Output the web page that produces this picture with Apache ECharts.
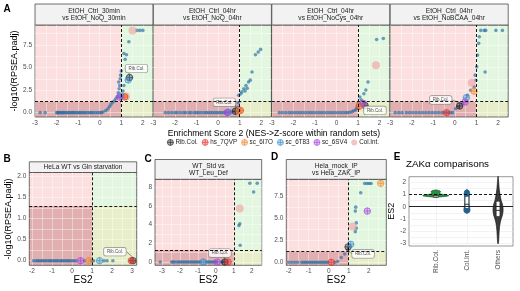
<!DOCTYPE html>
<html lang="en">
<head>
<meta charset="UTF-8">
<title>RPSEA panels</title>
<script src="https://cdn.jsdelivr.net/npm/echarts@6/dist/echarts.min.js"></script>
<style>
  html, body { margin: 0; padding: 0; background: #fff; }
  #chart { width: 520px; height: 291px; }
</style>
</head>
<body>
<div id="chart"></div>
<script>
// ---- data ----
const groups = ['Rib.Col.', 'hs_7QVP', 'sc_6I7O', 'sc_6T83', 'sc_6SV4', 'Col.Int.'];
const groupColors = ['#1a1a1a', '#e8312f', '#f08a2c', '#3c8fcf', '#a844e0', '#f3a3a3'];

const stripTexts = [
  'EtOH_Ctrl_30min\nvs EtOH_NoQ_30min',
  'EtOH_Ctrl_04hr\nvs EtOH_NoQ_04hr',
  'EtOH_Ctrl_04hr\nvs EtOH_NoCys_04hr',
  'EtOH_Ctrl_04hr\nvs EtOH_NoBCAA_04hr',
  'HeLa WT vs Gln starvation',
  'WT_Std vs\nWT_Leu_Def',
  'Hela_mock_IP\nvs Hela_ZAK_IP'
];

// points sitting on -log10(padj) = 0 (x values only)
const a1Zero = [-2.76,-2.53,-2.0,-1.95,-1.9,-1.84,-1.78,-1.72,-1.66,-1.6,-1.52,-1.45,-1.38,-1.3,-1.24,-1.18,-1.1,-1.02,-0.95,-0.88,-0.8,-0.72,-0.65,-0.55,-0.45,-0.38,-0.3,-0.2,-0.1,0.0,0.08];
const a2Zero = [-2.45,-2.3,-2.15,-2.0,-1.9,-1.75,-1.6,-1.5,-1.35,-1.25,-1.1,-1.0,-0.9,-0.78,-0.65,-0.55,-0.45,-0.35,-0.25,-0.15,-0.05,0.05,0.15,0.25,0.35];
const a3Zero = [-2.65,-2.5,-2.35,-2.2,-2.08,-1.95,-1.82,-1.7,-1.58,-1.45,-1.32,-1.2,-1.08,-0.95,-0.82,-0.7,-0.58,-0.45,-0.32,-0.2,-0.08,0.05,0.18,0.3,0.42,0.52];
const a4Zero = [-2.77,-2.6,-2.45,-2.25,-2.1,-1.95,-1.8,-1.65,-1.5,-1.35,-1.2,-1.05,-0.9,-0.75,-0.6,-0.48,-0.3,-0.2,-0.1];
const bZero = [-1.92,-1.8,-1.72,-1.64,-1.55,-1.47,-1.38,-1.3,-1.2,-1.12,-1.04,-0.95,-0.86,-0.78,-0.7,-0.6,-0.52,-0.44,-0.35,-0.26,-0.18,-0.1,0.0,0.1,0.2,0.62,0.98,1.08,1.6,1.75,2.04];
const cZero = [-3.1,-2.46,-2.38,-2.28,-2.15,-2.05,-1.95,-1.85,-1.75,-1.65,-1.55,-1.45,-1.35,-1.25,-1.15,-1.05,-0.95,-0.85,-0.55,-0.45,-0.35,-0.25,-0.15,-0.05,0.04,0.3,0.38];
const dZero = [-2.0,-1.85,-1.7,-1.55,-1.35,-1.25,-1.15,-1.05,-0.95,-0.85,-0.75,-0.65,-0.55,-0.45,-0.35,-0.25,-0.15,-0.05,0.3];

// other background points [ES2, -log10(padj)]
const a1Pts = [[0.15,0.08],[0.28,0.22],[0.38,0.42],[0.46,0.68],[0.52,0.92],[0.6,1.15],[0.68,1.32],[0.75,1.55],[0.82,1.8],[0.86,2.2],[0.9,2.65],[0.93,3.0],[0.88,3.4],[0.95,3.75],[0.97,4.15],[1.0,4.6],[1.08,2.4],[1.12,3.0],[1.12,6.55],[1.24,6.4],[1.18,5.9],[1.35,7.85],[1.72,9.1],[1.86,9.1],[2.0,9.1]];
const a2Pts = [[0.55,0.05],[0.65,0.1],[0.78,0.15],[0.9,0.6],[0.95,1.1],[0.95,1.92],[1.05,2.1],[1.1,2.3],[1.19,2.65],[1.25,2.4],[1.29,3.0],[1.35,2.7],[1.41,3.4],[1.49,3.6],[1.57,4.5],[1.73,6.4],[1.86,6.7],[1.97,7.0]];
const a3Pts = [[0.62,0.05],[0.72,0.1],[0.8,0.2],[0.88,0.3],[0.95,0.5],[1.02,1.05],[1.08,1.73],[1.15,1.4],[1.27,2.1],[1.36,2.5],[1.46,3.4],[1.86,8.1],[2.17,8.2]];
const a4Pts = [[0.03,0.44],[0.15,0.62],[0.35,1.0],[0.58,1.92],[0.73,2.48],[0.89,2.85],[0.97,3.59],[0.94,4.15],[1.01,5.07],[1.05,6.37],[1.1,7.67],[1.13,8.4],[1.2,9.1],[1.36,9.1],[1.43,9.1],[1.9,9.1],[2.2,9.1],[1.4,4.5]];
const bPts = [];
const cPts = [[1.28,3.9],[1.33,4.1],[1.35,1.8],[1.89,8.43],[2.3,8.43],[2.1,7.5]];
const dPts = [[0.45,0.1],[0.63,0.55],[0.8,0.95],[0.95,1.4],[1.33,3.5],[1.38,3.9],[1.38,4.5],[1.33,5.85],[1.35,6.3],[1.6,7.95],[1.8,9.0],[1.92,9.0],[2.02,9.0],[2.12,9.0]];

// highlighted complexes [group index, ES2, -log10(padj)]
const a1Marks = [[0,1.38,3.89],[1,1.16,1.75],[2,1.1,1.78],[3,1.32,3.62],[3,0.97,1.85],[4,0.93,1.7],[5,1.52,9.1],[5,1.22,1.8]];
const a2Marks = [[0,0.8,0.15],[1,1.03,0.25],[2,0.97,0.2],[3,0.48,0.05],[4,0.42,0.02]];
const a3Marks = [[0,1.32,0.8],[1,1.05,0.7],[2,1.1,0.82],[4,1.24,1.03],[5,1.83,5.26]];
const a4Marks = [[0,0.22,0.74],[1,-0.39,0],[2,0.89,2.37],[3,0.53,1.66],[4,0.47,1.18],[5,0.78,3.3]];
const bMarks = [[0,3.04,0],[1,2.96,0],[2,0.85,0],[3,1.38,0],[4,0.43,0]];
const cMarks = [[0,0.5,0],[1,0.68,0],[3,-0.7,0],[4,0.07,0],[5,1.33,5.74]];
const dMarks = [[0,0.97,1.76],[1,0.13,0],[2,2.6,9.02],[3,1.1,2.06],[4,1.93,5.85],[5,1.2,4.1]];

// tick labels
const xTicksA = [-3,-2,-1,0,1,2];
const yTicksA = [0,2.5,5,7.5];
const xTicksB = [-2,-1,0,1,2,3];
const yTicksB = [0,0.5,1,1.5,2];
const yTicksC = [0,2,4,6,8];
const xTicksD = [-2,-1,0,1,2];

// panel E: violins (ES2 value, half width in category units) and boxes [cat, q1, median, q3]
const eCats = ['Rib.Col.', 'Col.Int.', 'Others'];
const ribViolinY = [0.76,0.8,0.84,0.88,0.92,0.96,1.0,1.05,1.1,1.15,1.2,1.25,1.3,1.35,1.38];
const ribViolinW = [0.0,0.12,0.28,0.4,0.42,0.35,0.24,0.15,0.13,0.13,0.15,0.15,0.12,0.06,0.0];
const colViolinY = [-0.55,-0.45,-0.3,-0.1,0.1,0.3,0.5,0.7,0.9,1.1,1.3,1.42];
const colViolinW = [0.0,0.08,0.1,0.09,0.08,0.07,0.07,0.07,0.08,0.09,0.07,0.0];
const othViolinY = [-3.05,-2.9,-2.5,-2.0,-1.6,-1.3,-1.0,-0.7,-0.4,-0.1,0.2,0.5,1.0,1.5,2.0,2.5];
const othViolinW = [0.0,0.015,0.025,0.035,0.05,0.07,0.1,0.14,0.16,0.16,0.14,0.1,0.06,0.035,0.02,0.0];
const eBoxes = [[1,0.86,0.9,0.95],[2,-0.15,0.2,0.85],[3,-0.8,-0.3,0.45]];

// ---- drawing ----
const FONT = '"Liberation Sans", Arial, sans-serif';
const SIG = 1.301; // -log10(0.05)
const CROSS = 'path://M10,0A10,10,0,1,1,10,20A10,10,0,1,1,10,0ZM0,10L20,10M10,0L10,20';
const quadColors = ['#fce0e0', '#e3f7e0', '#e2afb1', '#e8eec9'];

const violins = [
  { y: ribViolinY, w: ribViolinW, fill: '#23913f', stroke: '#0f5a25' },
  { y: colViolinY, w: colViolinW, fill: '#1f6594', stroke: '#124a70' },
  { y: othViolinY, w: othViolinW, fill: '#3b3b3b', stroke: '#1a1a1a' }
];

function halves(lo, hi, step) {
  const out = [];
  for (let v = lo; v <= hi + 1e-9; v += step) out.push(Math.round(v * 100) / 100);
  return out;
}

const A_X = [-3.0, 2.47];
const A_Y = [-0.48, 9.7];
const panels = [
  { box: [35, 25, 118, 92], strip: [4, 21], xr: A_X, yr: A_Y, xt: xTicksA, yt: yTicksA, yg: halves(0, 8.75, 1.25), dec: 1, showY: true, yName: '-log10(RPSEA.padj)', yGap: 16, zero: a1Zero, pts: a1Pts, marks: a1Marks, lab: [7, -9] },
  { box: [153.4, 25, 118, 92], strip: [4, 21], xr: A_X, yr: A_Y, xt: xTicksA, yt: yTicksA, yg: halves(0, 8.75, 1.25), dec: 1, showY: false, zero: a2Zero, pts: a2Pts, marks: a2Marks, lab: [-11, -9] },
  { box: [271.8, 25, 118, 92], strip: [4, 21], xr: A_X, yr: A_Y, xt: xTicksA, yt: yTicksA, yg: halves(0, 8.75, 1.25), dec: 1, showY: false, zero: a3Zero, pts: a3Pts, marks: a3Marks, lab: [10, 5] },
  { box: [390.2, 25, 118, 92], strip: [4, 21], xr: A_X, yr: A_Y, xt: xTicksA, yt: yTicksA, yg: halves(0, 8.75, 1.25), dec: 1, showY: false, zero: a4Zero, pts: a4Pts, marks: a4Marks, lab: [-19, -6] },
  { box: [29.3, 172.5, 107.4, 92.8], strip: [161.8, 10.7], xr: [-2.13, 3.23], yr: [-0.11, 2.1], xt: xTicksB, yt: yTicksB, yg: halves(0, 2, 0.25), dec: 1, showY: true, yName: '-log10(RPSEA.padj)', yGap: 11, xName: 'ES2', zero: bZero, pts: bPts, marks: bMarks, lab: [-18, -9] },
  { box: [155, 179.3, 106.7, 86], strip: [159.5, 19.8], xr: [-3.39, 2.55], yr: [-0.35, 8.86], xt: xTicksA, yt: yTicksC, yg: halves(0, 8, 1), dec: 0, showY: true, xName: 'ES2', zero: cZero, pts: cPts, marks: cMarks, lab: [-5, -9] },
  { box: [286.3, 179.3, 100, 86], strip: [159.5, 19.8], xr: [-2.12, 2.88], yr: [-0.34, 9.48], xt: xTicksD, yt: yTicksA, yg: halves(0, 8.75, 1.25), dec: 1, showY: true, xName: 'ES2', zero: dZero, pts: dPts, marks: dMarks, lab: [15, 7] }
];

const grids = [], xAxes = [], yAxes = [], series = [], graphics = [];
const axisLabelStyle = { fontSize: 6.5, color: '#4d4d4d', fontFamily: FONT };

panels.forEach(function (p, i) {
  grids.push({ left: p.box[0], top: p.box[1], width: p.box[2], height: p.box[3], show: true,
    borderColor: '#333', borderWidth: 0.7, backgroundColor: 'transparent' });
  xAxes.push({
    type: 'value', gridIndex: i, min: p.xr[0], max: p.xr[1],
    name: p.xName || '', nameLocation: 'middle', nameGap: 10,
    nameTextStyle: { fontSize: 10, color: '#000', fontFamily: FONT },
    axisLine: { show: false },
    axisTick: { show: false, customValues: halves(Math.ceil(p.xr[0] * 2) / 2, p.xr[1], 0.5) },
    axisLabel: Object.assign({ customValues: p.xt, margin: 2.5, formatter: v => String(Math.round(v)) }, axisLabelStyle),
    splitLine: { show: true, lineStyle: { color: 'rgba(255,255,255,0.65)', width: 0.6 } }
  });
  yAxes.push({
    type: 'value', gridIndex: i, min: p.yr[0], max: p.yr[1],
    name: p.yName || '', nameLocation: 'middle', nameGap: p.yGap || 10,
    nameTextStyle: { fontSize: 9, color: '#000', fontFamily: FONT },
    axisLine: { show: false },
    axisTick: { show: false, customValues: p.yg },
    axisLabel: Object.assign({ show: p.showY, customValues: p.yt, margin: 3, formatter: v => v.toFixed(p.dec) }, axisLabelStyle),
    splitLine: { show: true, lineStyle: { color: 'rgba(255,255,255,0.65)', width: 0.6 } }
  });

  // quadrant backgrounds (below the grid lines)
  series.push({
    type: 'custom', xAxisIndex: i, yAxisIndex: i, z: -1, silent: true,
    data: [
      [p.xr[0], SIG, 1, p.yr[1], 0],
      [1, SIG, p.xr[1], p.yr[1], 1],
      [p.xr[0], p.yr[0], 1, SIG, 2],
      [1, p.yr[0], p.xr[1], SIG, 3]
    ],
    renderItem: function (params, api) {
      const a = api.coord([api.value(0), api.value(1)]);
      const b = api.coord([api.value(2), api.value(3)]);
      return { type: 'rect',
        shape: { x: Math.min(a[0], b[0]), y: Math.min(a[1], b[1]), width: Math.abs(b[0] - a[0]), height: Math.abs(b[1] - a[1]) },
        style: { fill: quadColors[api.value(4)] } };
    }
  });

  // all complexes
  series.push({
    type: 'scatter', xAxisIndex: i, yAxisIndex: i, symbolSize: 3.6, silent: true,
    itemStyle: { color: 'rgba(36,108,164,0.82)' },
    data: p.zero.map(x => [x, 0]).concat(p.pts),
    markLine: {
      silent: true, symbol: 'none', label: { show: false },
      lineStyle: { color: '#000', width: 0.9, type: [3, 2] },
      data: [{ xAxis: 1 }, { yAxis: SIG }]
    }
  });

  // highlighted groups
  groups.forEach(function (g, k) {
    const pts = p.marks.filter(m => m[0] === k).map(m => [m[1], m[2]]);
    const col = groupColors[k];
    const s = {
      type: 'scatter', name: g, xAxisIndex: i, yAxisIndex: i, z: k === 5 ? 3 : 4, silent: true,
      symbol: k === 5 ? 'circle' : CROSS,
      symbolSize: k === 5 ? 8 : 6.5,
      itemStyle: k === 5
        ? { color: 'rgba(243,163,163,0.8)' }
        : { color: echarts.color.modifyAlpha(col, 0.4), borderColor: col, borderWidth: 0.8 },
      data: pts
    };
    if (k === 0) {
      s.label = { show: true, position: 'inside', formatter: 'Rib.Col.', fontSize: 4.5, color: '#222', fontFamily: FONT,
        backgroundColor: '#fff', borderColor: '#777', borderWidth: 0.6, borderRadius: 2, padding: [1.5, 3] };
      s.labelLayout = { dx: p.lab[0], dy: p.lab[1] };
      s.labelLine = { show: true, lineStyle: { color: '#333', width: 0.5 } };
    }
    series.push(s);
  });

  // facet strip
  const top = p.strip[0], h = p.strip[1];
  graphics.push({ type: 'rect', silent: true, shape: { x: p.box[0], y: top, width: p.box[2], height: h },
    style: { fill: '#f2f2f2', stroke: '#333', lineWidth: 0.7 } });
  graphics.push({ type: 'text', silent: true,
    style: { x: p.box[0] + p.box[2] / 2, y: top + h / 2 + 0.5, text: stripTexts[i], fontSize: 6.6, lineHeight: 7.3,
      fontFamily: FONT, fill: '#1a1a1a', align: 'center', verticalAlign: 'middle' } });
});

// ---- panel E ----
const ei = panels.length;
grids.push({ left: 409, top: 176.7, width: 104, height: 69.3, show: true, borderColor: '#555', borderWidth: 0.6, backgroundColor: '#fff' });
xAxes.push({
  type: 'value', gridIndex: ei, min: 0.14, max: 3.48,
  axisLine: { show: false }, axisTick: { show: false, customValues: [1, 2, 3] },
  axisLabel: Object.assign({ customValues: [1, 2, 3], rotate: 90, margin: 4, formatter: v => eCats[Math.round(v) - 1] }, axisLabelStyle),
  splitLine: { show: true, lineStyle: { color: '#ebebeb', width: 0.6 } }
});
yAxes.push({
  type: 'value', gridIndex: ei, min: -3.22, max: 2.46,
  name: 'ES2', nameLocation: 'middle', nameGap: 5,
  nameTextStyle: { fontSize: 9, color: '#000', fontFamily: FONT },
  axisLine: { show: false }, axisTick: { show: false, customValues: halves(-3, 2, 0.5) },
  axisLabel: Object.assign({ customValues: [-3, -2, -1, 0, 1, 2], margin: 3, formatter: v => String(Math.round(v)) }, axisLabelStyle),
  splitLine: { show: true, lineStyle: { color: '#ebebeb', width: 0.6 } }
});
series.push({
  type: 'scatter', xAxisIndex: ei, yAxisIndex: ei, data: [], z: 1, silent: true,
  markLine: {
    silent: true, symbol: 'none', label: { show: false },
    data: [
      { yAxis: 1, lineStyle: { color: '#000', width: 0.9, type: [3, 2] } },
      { yAxis: 0, lineStyle: { color: '#222', width: 1, type: 'solid' } }
    ]
  }
});
series.push({
  type: 'custom', xAxisIndex: ei, yAxisIndex: ei, z: 2, silent: true,
  data: [[1], [2], [3]],
  renderItem: function (params, api) {
    const v = violins[params.dataIndex];
    const c = api.value(0);
    const pts = [];
    for (let j = 0; j < v.y.length; j++) pts.push(api.coord([c + v.w[j], v.y[j]]));
    for (let j = v.y.length - 1; j >= 0; j--) pts.push(api.coord([c - v.w[j], v.y[j]]));
    return { type: 'polygon', shape: { points: pts }, style: { fill: v.fill, stroke: v.stroke, lineWidth: 0.7 } };
  }
});
series.push({
  type: 'custom', xAxisIndex: ei, yAxisIndex: ei, z: 3, silent: true,
  data: eBoxes,
  renderItem: function (params, api) {
    const c = api.value(0);
    const hw = params.dataIndex === 0 ? 0.09 : 0.06;
    const a = api.coord([c - hw, api.value(3)]);
    const b = api.coord([c + hw, api.value(1)]);
    const m1 = api.coord([c - hw, api.value(2)]);
    const m2 = api.coord([c + hw, api.value(2)]);
    return { type: 'group', children: [
      { type: 'rect', shape: { x: a[0], y: a[1], width: b[0] - a[0], height: Math.max(b[1] - a[1], 2), r: 1 },
        style: { fill: '#fff', stroke: '#1a1a1a', lineWidth: 0.6 } },
      { type: 'line', shape: { x1: m1[0], y1: m1[1], x2: m2[0], y2: m2[1] }, style: { stroke: '#1a1a1a', lineWidth: 0.9 } }
    ] };
  }
});

// ---- titles, panel letters ----
[['A', 7, 9], ['B', 7, 159], ['C', 148, 159], ['D', 274.5, 157.5], ['E', 397, 157]].forEach(function (t) {
  graphics.push({ type: 'text', silent: true,
    style: { x: t[1], y: t[2], text: t[0], fontSize: 10, fontWeight: 'bold', fontFamily: FONT, fill: '#000', align: 'center', verticalAlign: 'middle' } });
});
graphics.push({ type: 'text', silent: true,
  style: { x: 274, y: 134, text: 'Enrichment Score 2 (NES->Z-score within random sets)', fontSize: 8.6, fontFamily: FONT, fill: '#000', align: 'center', verticalAlign: 'middle' } });
graphics.push({ type: 'text', silent: true,
  style: { x: 406, y: 164, text: 'ZAKα comparisons', fontSize: 9.8, fontFamily: FONT, fill: '#000', align: 'left', verticalAlign: 'middle' } });

const chart = echarts.init(document.getElementById('chart'));
chart.setOption({
  animation: false,
  textStyle: { fontFamily: FONT },
  grid: grids,
  xAxis: xAxes,
  yAxis: yAxes,
  legend: {
    left: 167, top: 139, padding: 0, itemWidth: 6, itemHeight: 6, itemGap: 4, selectedMode: false,
    itemStyle: { borderWidth: 0.8 },
    textStyle: { fontSize: 6.3, color: '#1a1a1a', fontFamily: FONT, padding: [0, 0, 0, -3] },
    data: groups.map((g, k) => ({ name: g, icon: k === 5 ? 'circle' : CROSS }))
  },
  series: series,
  graphic: graphics
});
</script>
</body>
</html>
